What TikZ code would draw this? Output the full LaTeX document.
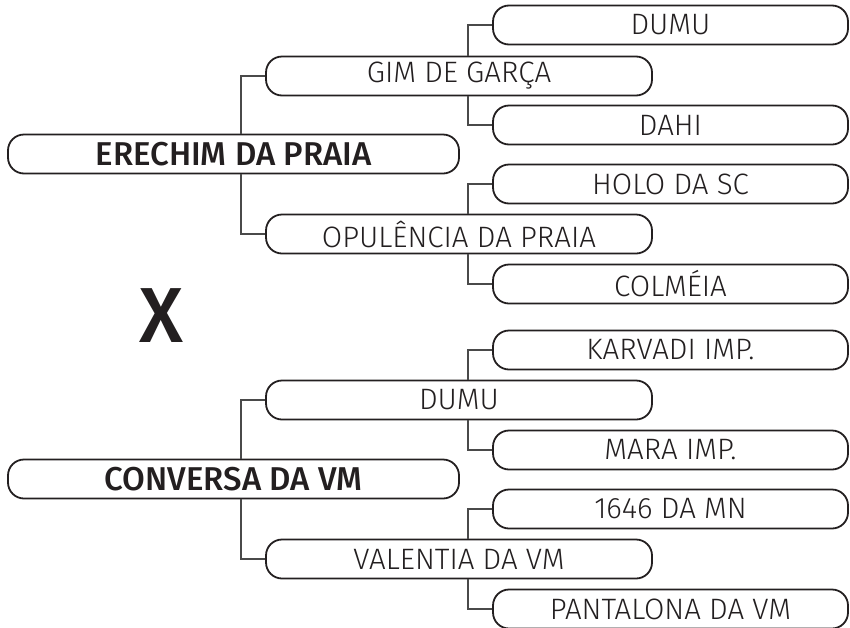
\documentclass[tikz,border=0pt]{standalone}
\usepackage{fontspec}
\setmainfont{Fira Sans}[UprightFont={* Light},BoldFont={* Medium}]
\usepackage{xcolor}
\usetikzlibrary{positioning,calc}
\definecolor{InkDark}{HTML}{231F20}
\definecolor{LinkGray}{HTML}{4A4A4A}
\tikzset{
  namebox/.style={draw=InkDark,line width=1.8pt,rounded corners=16pt,fill=white,
              minimum height=39pt,inner sep=0pt,text=InkDark},
  gen1box/.style={namebox,minimum width=451pt,font=\fontsize{33}{33}\selectfont\bfseries},
  gen2box/.style={namebox,minimum width=386pt,font=\fontsize{29.5}{29.5}\selectfont},
  gen3box/.style={namebox,minimum width=355pt,font=\fontsize{29.5}{29.5}\selectfont},
  link/.style={draw=LinkGray,line width=1.3pt},
  cross/.style={font=\fontsize{78}{78}\selectfont\bfseries,text=InkDark,inner sep=0pt}
}
\begin{document}
\begin{tikzpicture}[x=1pt,y=-1pt]
  \useasboundingbox (0,0) rectangle (850,627);

  % first parent line
  \node[gen3box] (dumuA) at (670.5,25) {DUMU};
  \node[gen3box] (dahi) at (670.5,125) {DAHI};
  \node[gen3box] (holo) at (670.5,184) {HOLO DA SC};
  \node[gen3box] (colmeia) at (670.5,284) {COLMÉIA};
  \node[gen2box] (gim) at (459,76) {GIM DE GARÇA};
  \node[gen2box] (opul) at (459,234) {OPULÊNCIA DA PRAIA};
  \node[gen1box] (erechim) at (233.5,154) {ERECHIM DA PRAIA};

  \node[cross] (x) at (161,316) {X};

  % second parent line
  \node[gen3box] (karvadi) at (670.5,350) {KARVADI IMP.};
  \node[gen3box] (mara) at (670.5,450) {MARA IMP.};
  \node[gen3box] (mn) at (670.5,509) {1646 DA MN};
  \node[gen3box] (pantalona) at (670.5,609) {PANTALONA DA VM};
  \node[gen2box] (dumuB) at (459,400) {DUMU};
  \node[gen2box] (valentia) at (459,559) {VALENTIA DA VM};
  \node[gen1box] (conversa) at (233.5,479) {CONVERSA DA VM};

  \draw[link] (gim.west) -| ([xshift=7.5pt]erechim.north);
  \draw[link] (opul.west) -| ([xshift=7.5pt]erechim.south);
  \draw[link] (dumuA.west) -| ([xshift=9pt]gim.north);
  \draw[link] (dahi.west) -| ([xshift=9pt]gim.south);
  \draw[link] (holo.west) -| ([xshift=9pt]opul.north);
  \draw[link] (colmeia.west) -| ([xshift=9pt]opul.south);

  \draw[link] (dumuB.west) -| ([xshift=7.5pt]conversa.north);
  \draw[link] (valentia.west) -| ([xshift=7.5pt]conversa.south);
  \draw[link] (karvadi.west) -| ([xshift=9pt]dumuB.north);
  \draw[link] (mara.west) -| ([xshift=9pt]dumuB.south);
  \draw[link] (mn.west) -| ([xshift=9pt]valentia.north);
  \draw[link] (pantalona.west) -| ([xshift=9pt]valentia.south);
\end{tikzpicture}
\end{document}
